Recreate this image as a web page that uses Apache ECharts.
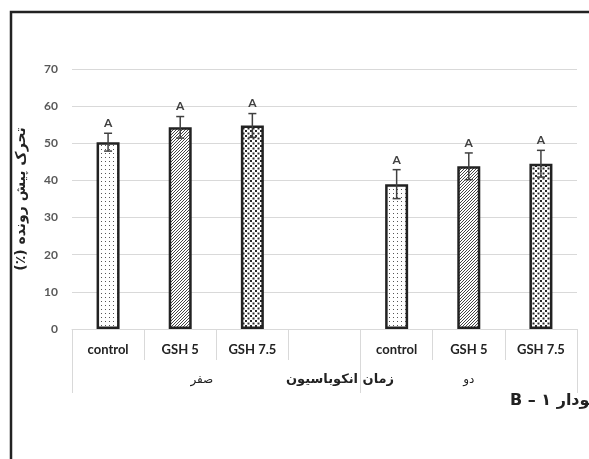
<!DOCTYPE html>
<html>
<head>
<meta charset="utf-8">
<script src="https://cdn.jsdelivr.net/npm/echarts@6/dist/echarts.min.js"></script>
<style>
  html, body { margin: 0; padding: 0; background: #fff; }
  #chart { width: 589px; height: 459px; }
</style>
</head>
<body>
<div id="chart"></div>
<script>
// Progressive motility (%) by treatment, at two incubation times
const categories = ['control', 'GSH 5', 'GSH 7.5', '', 'control', 'GSH 5', 'GSH 7.5'];
const motility = [50.3, 54.3, 54.8, null, 39.0, 43.8, 44.5];
const motilityErr = [2.4, 2.9, 3.2, null, 3.9, 3.6, 3.6];
const letters = ['A', 'A', 'A', '', 'A', 'A', 'A'];
const fills = ['sparse', 'hatch', 'dense', null, 'sparse', 'hatch', 'dense'];
const groupNames = ['صفر', 'دو'];
const groupEdges = [0, 4, 7];
const yTicks = [0, 10, 20, 30, 40, 50, 60, 70];

const RTL = s => '\u202B' + s + '\u202C';
const faFont = '"DejaVu Sans", "Noto Sans", sans-serif';
const latinFont = 'Lato, "Open Sans", sans-serif';

function makePattern(kind) {
  const c = document.createElement('canvas');
  const ctx = c.getContext('2d');
  if (kind === 'sparse') {
    c.width = 4; c.height = 4;
    ctx.fillStyle = '#fff'; ctx.fillRect(0, 0, 4, 4);
    ctx.fillStyle = '#555'; ctx.fillRect(1, 1, 1, 1);
  } else if (kind === 'hatch') {
    c.width = 3; c.height = 3;
    ctx.fillStyle = '#fff'; ctx.fillRect(0, 0, 3, 3);
    ctx.fillStyle = '#444';
    for (let i = 0; i < 3; i++) ctx.fillRect(i, 2 - i, 1, 1);
  } else {
    c.width = 5; c.height = 5;
    ctx.fillStyle = '#fff'; ctx.fillRect(0, 0, 5, 5);
    ctx.fillStyle = '#2a2a2a';
    ctx.fillRect(0, 0, 2, 2);
    ctx.fillRect(2.5, 2.5, 2, 2);
  }
  return { image: c, repeat: 'repeat' };
}

const barData = motility.map((v, i) => v == null ? '-' : {
  value: v,
  itemStyle: { color: makePattern(fills[i]) }
});

const errData = motility.map((v, i) => [i, v == null ? NaN : v, motilityErr[i] == null ? NaN : motilityErr[i]]);

const chart = echarts.init(document.getElementById('chart'), null, { renderer: 'canvas' });

chart.setOption({
  animation: false,
  backgroundColor: '#fff',
  title: {
    text: RTL('نمودار ۱ – B'),
    left: 505,
    top: 388,
    textStyle: { fontSize: 16, fontWeight: 'bold', color: '#222', fontFamily: faFont }
  },
  grid: { left: 72, right: 12, top: 69, bottom: 130 },
  xAxis: [
    {
      type: 'category',
      data: categories,
      axisLine: { show: true, lineStyle: { color: '#d9d9d9', width: 1 } },
      axisTick: { show: true, interval: 0, length: 31, lineStyle: { color: '#d9d9d9' } },
      axisLabel: { interval: 0, margin: 14, fontSize: 13, fontWeight: 'bold', color: '#222', fontFamily: latinFont },
      splitLine: { show: false }
    },
    {
      type: 'value',
      min: groupEdges[0],
      max: groupEdges[groupEdges.length - 1],
      position: 'bottom',
      axisLine: { show: false },
      splitLine: { show: false },
      axisTick: { show: true, customValues: groupEdges, length: 64, lineStyle: { color: '#d9d9d9' } },
      axisLabel: {
        customValues: [1.8, 5.5],
        margin: 45,
        fontSize: 12,
        color: '#222',
        fontFamily: faFont,
        formatter: v => RTL(v < groupEdges[1] ? groupNames[0] : groupNames[1])
      },
      name: RTL('زمان انکوباسیون'),
      nameLocation: 'middle',
      nameGap: 44,
      nameMoveOverlap: false,
      nameTextStyle: { fontSize: 13, fontWeight: 'bold', color: '#222', fontFamily: faFont, padding: [0, 0, 0, 31] }
    }
  ],
  yAxis: {
    type: 'value',
    min: yTicks[0],
    max: yTicks[yTicks.length - 1],
    interval: 10,
    axisLine: { show: false },
    axisTick: { show: false },
    splitLine: { lineStyle: { color: '#d9d9d9', width: 1 } },
    axisLabel: { margin: 14, fontSize: 12, fontWeight: 'bold', color: '#595959', fontFamily: latinFont },
    name: RTL('تحرک پیش رونده (٪)'),
    nameLocation: 'middle',
    nameGap: 44,
    nameMoveOverlap: false,
    nameTextStyle: { fontSize: 14, fontWeight: 'bold', color: '#222', fontFamily: faFont }
  },
  graphic: [
    {
      type: 'rect',
      silent: true,
      z: -1,
      shape: { x: 11, y: 12, width: 700, height: 600 },
      style: { fill: 'none', stroke: '#222', lineWidth: 2.5 }
    }
  ],
  series: [
    {
      type: 'bar',
      data: barData,
      barWidth: 23,
      itemStyle: { borderColor: '#222', borderWidth: 2.5 }
    },
    {
      type: 'custom',
      data: errData,
      z: 5,
      renderItem: function (params, api) {
        const i = api.value(0), m = api.value(1), e = api.value(2);
        if (isNaN(m)) return null;
        const hi = api.coord([i, m + e]);
        const lo = api.coord([i, m - e]);
        const cap = 4;
        const ls = { stroke: '#404040', lineWidth: 1.5 };
        return {
          type: 'group',
          children: [
            { type: 'line', shape: { x1: hi[0], y1: hi[1], x2: lo[0], y2: lo[1] }, style: ls },
            { type: 'line', shape: { x1: hi[0] - cap, y1: hi[1], x2: hi[0] + cap, y2: hi[1] }, style: ls },
            { type: 'line', shape: { x1: lo[0] - cap, y1: lo[1], x2: lo[0] + cap, y2: lo[1] }, style: ls },
            {
              type: 'text',
              style: {
                x: hi[0], y: hi[1] - 4,
                text: letters[params.dataIndex],
                align: 'center', verticalAlign: 'bottom',
                font: 'bold 12px ' + latinFont,
                fill: '#404040'
              }
            }
          ]
        };
      }
    }
  ]
});
</script>
</body>
</html>
